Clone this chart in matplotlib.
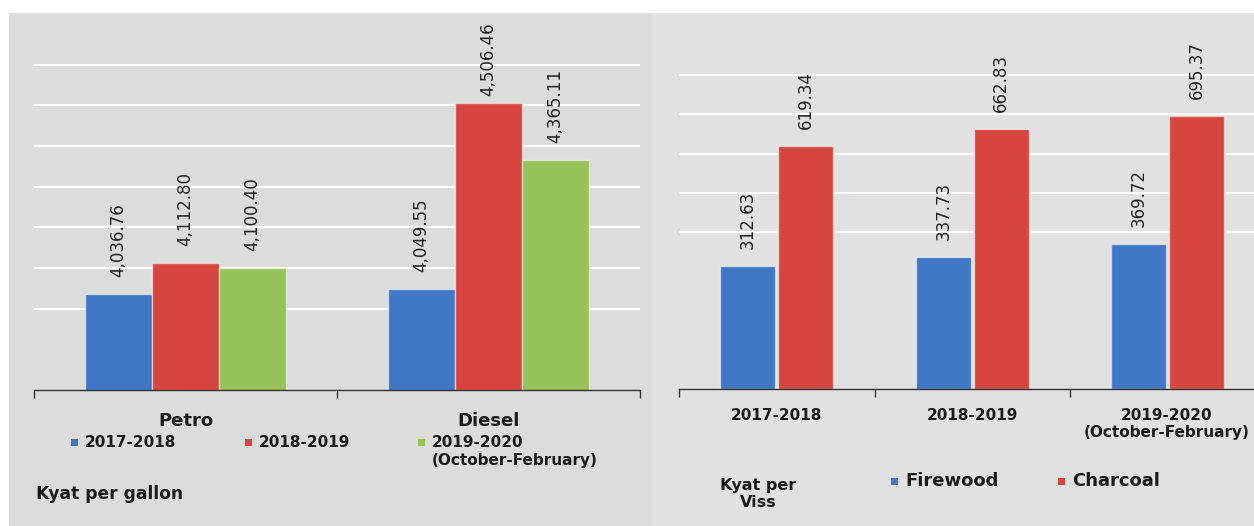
import matplotlib
matplotlib.use("Agg")
import matplotlib.pyplot as plt
from matplotlib.patches import Rectangle
from matplotlib.transforms import ScaledTranslation
import numpy as np

# ---- fuel prices (Kyat per gallon) ----
fuel_types = ["Petro", "Diesel"]
fuel_periods = ["2017-2018", "2018-2019", "2019-2020\n(October-February)"]
fuel_2017_18 = [4036.76, 4049.55]
fuel_2018_19 = [4112.80, 4506.46]
fuel_2019_20 = [4100.40, 4365.11]

# ---- wood fuel prices (Kyat per Viss) ----
wood_periods = ["2017-2018", "2018-2019", "2019-2020\n(October-February)"]
firewood = [312.63, 337.73, 369.72]
charcoal = [619.34, 662.83, 695.37]

BLUE = "#4178c6"
RED = "#d6463f"
GREEN = "#98c35a"
TEXT = "#1a1a1a"

W, H = 1254, 526
fig = plt.figure(figsize=(W / 100, H / 100), dpi=100)
fig.patch.set_facecolor("white")


def fx(px):
    return px / W


def fy(py):
    return 1 - py / H


# panel backgrounds
fig.add_artist(Rectangle((fx(9), 0), fx(652) - fx(9), fy(13), transform=fig.transFigure,
                         facecolor="#dcdcdc", edgecolor="none", zorder=-5))
fig.add_artist(Rectangle((fx(652), 0), 1 - fx(652), fy(13), transform=fig.transFigure,
                         facecolor="#e1e1e1", edgecolor="none", zorder=-5))


def style_axes(ax, gridvals, pad):
    ax.patch.set_visible(False)
    for side in ("top", "left", "right"):
        ax.spines[side].set_visible(False)
    ax.spines["bottom"].set_color("#333333")
    ax.spines["bottom"].set_linewidth(1.0)
    ax.set_yticks(gridvals)
    ax.yaxis.grid(True, color="white", linewidth=1.5)
    ax.set_axisbelow(True)
    ax.tick_params(axis="y", length=0, labelleft=False)
    ax.tick_params(axis="x", which="major", length=0, pad=pad)
    ax.tick_params(axis="x", which="minor", length=6, width=1, color="#333333")


annotations = []


def label_bars(ax, bars, values, fmt):
    for b, v in zip(bars, values):
        a = ax.annotate(fmt.format(v), (b.get_x() + b.get_width() / 2, v),
                        xytext=(0, 17), textcoords="offset pixels",
                        rotation=90, ha="center", va="bottom",
                        fontsize=12, color="#222222", annotation_clip=False)
        annotations.append(a)


# ---------------- left panel: petrol and diesel ----------------
axL = fig.add_axes([fx(34), fy(390), fx(640) - fx(34), (390 - 24) / H])
axL.set_xlim(-0.5, 1.5)
axL.set_ylim(3800, 4700)
style_axes(axL, [4000, 4100, 4200, 4300, 4400, 4500, 4600], pad=15.5)

xL = np.arange(len(fuel_types))
wL = 0.221
for off, vals, col in zip((-wL, 0, wL), (fuel_2017_18, fuel_2018_19, fuel_2019_20),
                          (BLUE, RED, GREEN)):
    bars = axL.bar(xL + off, vals, wL, bottom=0, color=col,
                   edgecolor=(1, 1, 1, 0.55), linewidth=1.0, zorder=2)
    label_bars(axL, bars, vals, "{:,.2f}")

axL.set_xticks(xL, fuel_types)
axL.set_xticks([-0.5, 0.5, 1.5], minor=True)
for t in axL.get_xticklabels():
    t.set_fontsize(13)
    t.set_fontweight("bold")
    t.set_color(TEXT)

# legend row of the left panel
leg_y = 442
for mx, col, lab in zip((74, 248, 421), (BLUE, RED, GREEN), fuel_periods):
    fig.add_artist(Rectangle((fx(mx - 3.5), fy(leg_y + 3.5)), 7 / W, 7 / H,
                             transform=fig.transFigure, facecolor=col,
                             edgecolor="none"))
    fig.text(fx(mx + 11), fy(leg_y - 7), lab, ha="left", va="top", fontsize=11,
             fontweight="bold", color=TEXT, linespacing=1.25)

fig.text(fx(36), fy(494), "Kyat per gallon", ha="left", va="center",
         fontsize=12.3, fontweight="bold", color=TEXT)

# ---------------- right panel: firewood and charcoal ----------------
axR = fig.add_axes([fx(679), fy(389), 586.5 / W, 353 / H])
axR.set_xlim(-0.5, 2.5)
axR.set_ylim(0, 900)
style_axes(axR, [400, 500, 600, 700, 800], pad=13.7)

xR = np.arange(len(wood_periods))
wR = 0.28
offR = 0.148
bars_f = axR.bar(xR - offR, firewood, wR, color=BLUE,
                 edgecolor=(1, 1, 1, 0.55), linewidth=1.0, zorder=2)
bars_c = axR.bar(xR + offR, charcoal, wR, color=RED,
                 edgecolor=(1, 1, 1, 0.55), linewidth=1.0, zorder=2)
label_bars(axR, bars_f, firewood, "{:.2f}")
label_bars(axR, bars_c, charcoal, "{:.2f}")

axR.set_xticks(xR, wood_periods)
axR.set_xticks([-0.5, 0.5, 1.5, 2.5], minor=True)
for t in axR.get_xticklabels():
    t.set_fontsize(11)
    t.set_fontweight("bold")
    t.set_color(TEXT)

leg_y2 = 481
for mx, col, lab in zip((894, 1061), (BLUE, RED), ("Firewood", "Charcoal")):
    fig.add_artist(Rectangle((fx(mx - 3.5), fy(leg_y2 + 3.5)), 7 / W, 7 / H,
                             transform=fig.transFigure, facecolor=col,
                             edgecolor="none"))
    fig.text(fx(mx + 11), fy(leg_y2), lab, ha="left", va="center", fontsize=13,
             fontweight="bold", color=TEXT)

fig.text(fx(758), fy(494), "Kyat per\nViss", ha="center", va="center",
         fontsize=11.5, fontweight="bold", color=TEXT, linespacing=1.15)

# keep value labels and category labels inside the drawing area
fig.canvas.draw()
renderer = fig.canvas.get_renderer()
top_limit = H - 22
for a in annotations:
    bb = a.get_window_extent(renderer)
    if bb.y1 > top_limit:
        a.xyann = (0, 17 - (bb.y1 - top_limit))
for t in axR.get_xticklabels():
    bb = t.get_window_extent(renderer)
    if bb.x1 > W - 4:
        dx = (bb.x1 - (W - 4)) / fig.dpi
        t.set_transform(t.get_transform() + ScaledTranslation(-dx, 0, fig.dpi_scale_trans))

fig.savefig("out.png", dpi=100, facecolor=fig.get_facecolor())
